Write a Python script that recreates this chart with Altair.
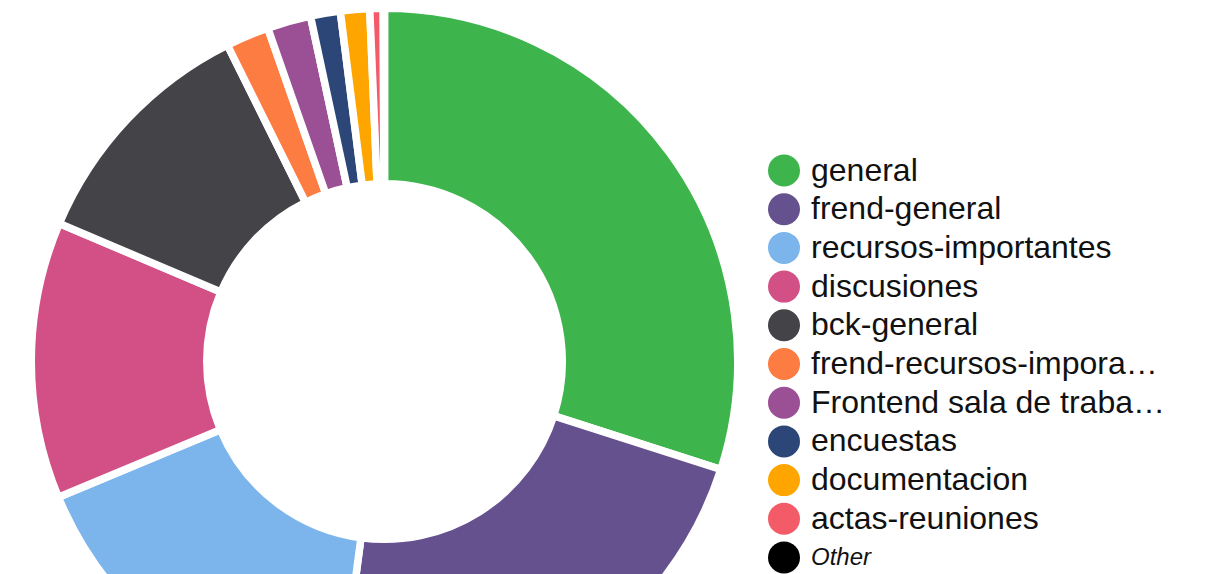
import altair as alt
import pandas as pd

channels = [
    "general", "frend-general", "recursos-importantes", "discusiones",
    "bck-general", "frend-recursos-imporantes", "Frontend sala de trabajo grupal",
    "encuestas", "documentacion", "actas-reuniones", "Other",
]
messages = [1078, 798, 598, 456, 406, 71, 72, 49, 48, 22, 2]
colors = [
    "#3db44c", "#66518f", "#7cb5ec", "#d35087", "#434348", "#fd7c41",
    "#9b4f94", "#2c4777", "#ffa500", "#f45b69", "#000000",
]

df = pd.DataFrame({"channel": channels, "messages": messages, "rank": list(range(len(channels)))})

legend = alt.Legend(
    title=None,
    orient="none",
    legendX=755,
    legendY=141.5,
    padding=0,
    symbolType="circle",
    symbolSize=1024,
    symbolStrokeWidth=0,
    labelFont="Liberation Sans",
    labelFontSize={"expr": "datum.label == 'Other' ? 24 : 32"},
    labelFontStyle={"expr": "datum.label == 'Other' ? 'italic' : 'normal'"},
    labelLimit=357,
    labelOffset=11,
    labelColor="#111111",
    rowPadding=6.7,
)

chart = (
    alt.Chart(df)
    .mark_arc(outerRadius=353.25, innerRadius=177.75, stroke="white", strokeWidth=7.5)
    .encode(
        theta=alt.Theta("messages:Q", stack=True),
        order=alt.Order("rank:Q"),
        color=alt.Color("channel:N", scale=alt.Scale(domain=channels, range=colors), legend=legend),
    )
    .properties(
        width=743,
        height=697,
        autosize=alt.AutoSizeParams(type="none"),
        padding={"left": 5, "top": 5, "right": 440, "bottom": 5},
    )
    .configure_view(strokeOpacity=0)
)

chart.save("out.html", embed_options={"renderer": "svg", "actions": False})
